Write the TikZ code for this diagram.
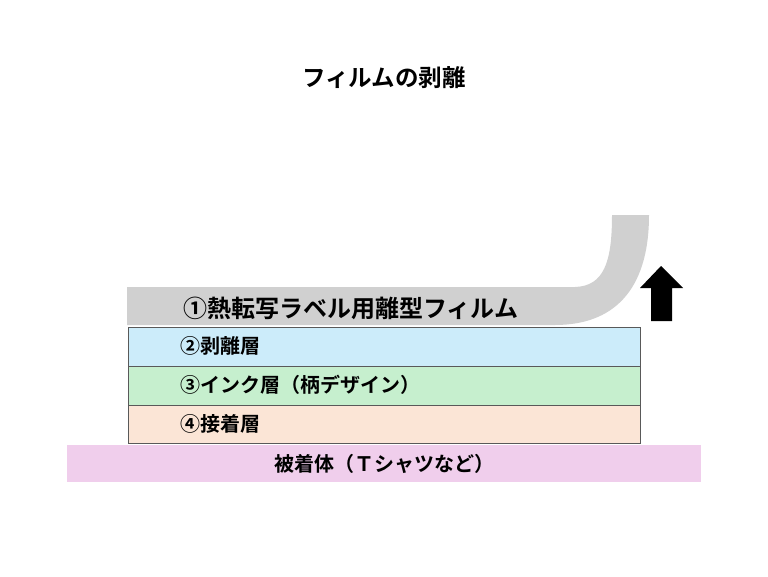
\documentclass[tikz,border=0pt]{standalone}
\usepackage{fontspec}
\newfontfamily\jp{Noto Sans CJK JP}[BoldFont={Noto Sans CJK JP Bold}]
\definecolor{filmgray}{RGB}{208,208,208}
\definecolor{peelblue}{RGB}{204,236,250}
\definecolor{inkgreen}{RGB}{198,239,206}
\definecolor{gluepeach}{RGB}{251,229,214}
\definecolor{basepink}{RGB}{240,206,236}
\tikzset{
  layer/.style={draw=black!65, line width=0.8pt},
  lbl/.style={anchor=west, inner sep=0pt, font=\jp\bfseries\fontsize{20}{20}\selectfont}
}
\begin{document}
\begin{tikzpicture}[x=1pt, y=-1pt]
\useasboundingbox (0,0) rectangle (768,576);
\node (title) at (384,78) {\jp\bfseries\fontsize{23.5}{23.5}\selectfont フィルムの剥離};
% peeled film
\fill[filmgray] (127,287) -- (575,287) .. controls (604,286) and (612,262) .. (612,215)
  -- (649,215) .. controls (649,292) and (612,325) .. (555,325) -- (127,325) -- cycle;
\node[lbl, font=\jp\bfseries\fontsize{24}{24}\selectfont] (film) at (183,308) {①熱転写ラベル用離型フィルム};
% layers
\filldraw[layer, fill=peelblue] (128,327) rectangle (640,366);
\filldraw[layer, fill=inkgreen] (128,366) rectangle (640,405);
\filldraw[layer, fill=gluepeach] (128,405) rectangle (640,443);
\node[lbl] (peel) at (180,346) {②剥離層};
\node[lbl] (ink) at (180,385) {③インク層（柄デザイン）};
\node[lbl] (glue) at (180,424) {④接着層};
% base
\fill[basepink] (67,445) rectangle (701,482);
\node[lbl, anchor=center] (base) at (384,464) {被着体（Ｔシャツなど）};
% arrow
\fill[black] (661,266) -- (683,288) -- (672,288) -- (672,321) -- (651,321) -- (651,288) -- (640,288) -- cycle;
\end{tikzpicture}
\end{document}
